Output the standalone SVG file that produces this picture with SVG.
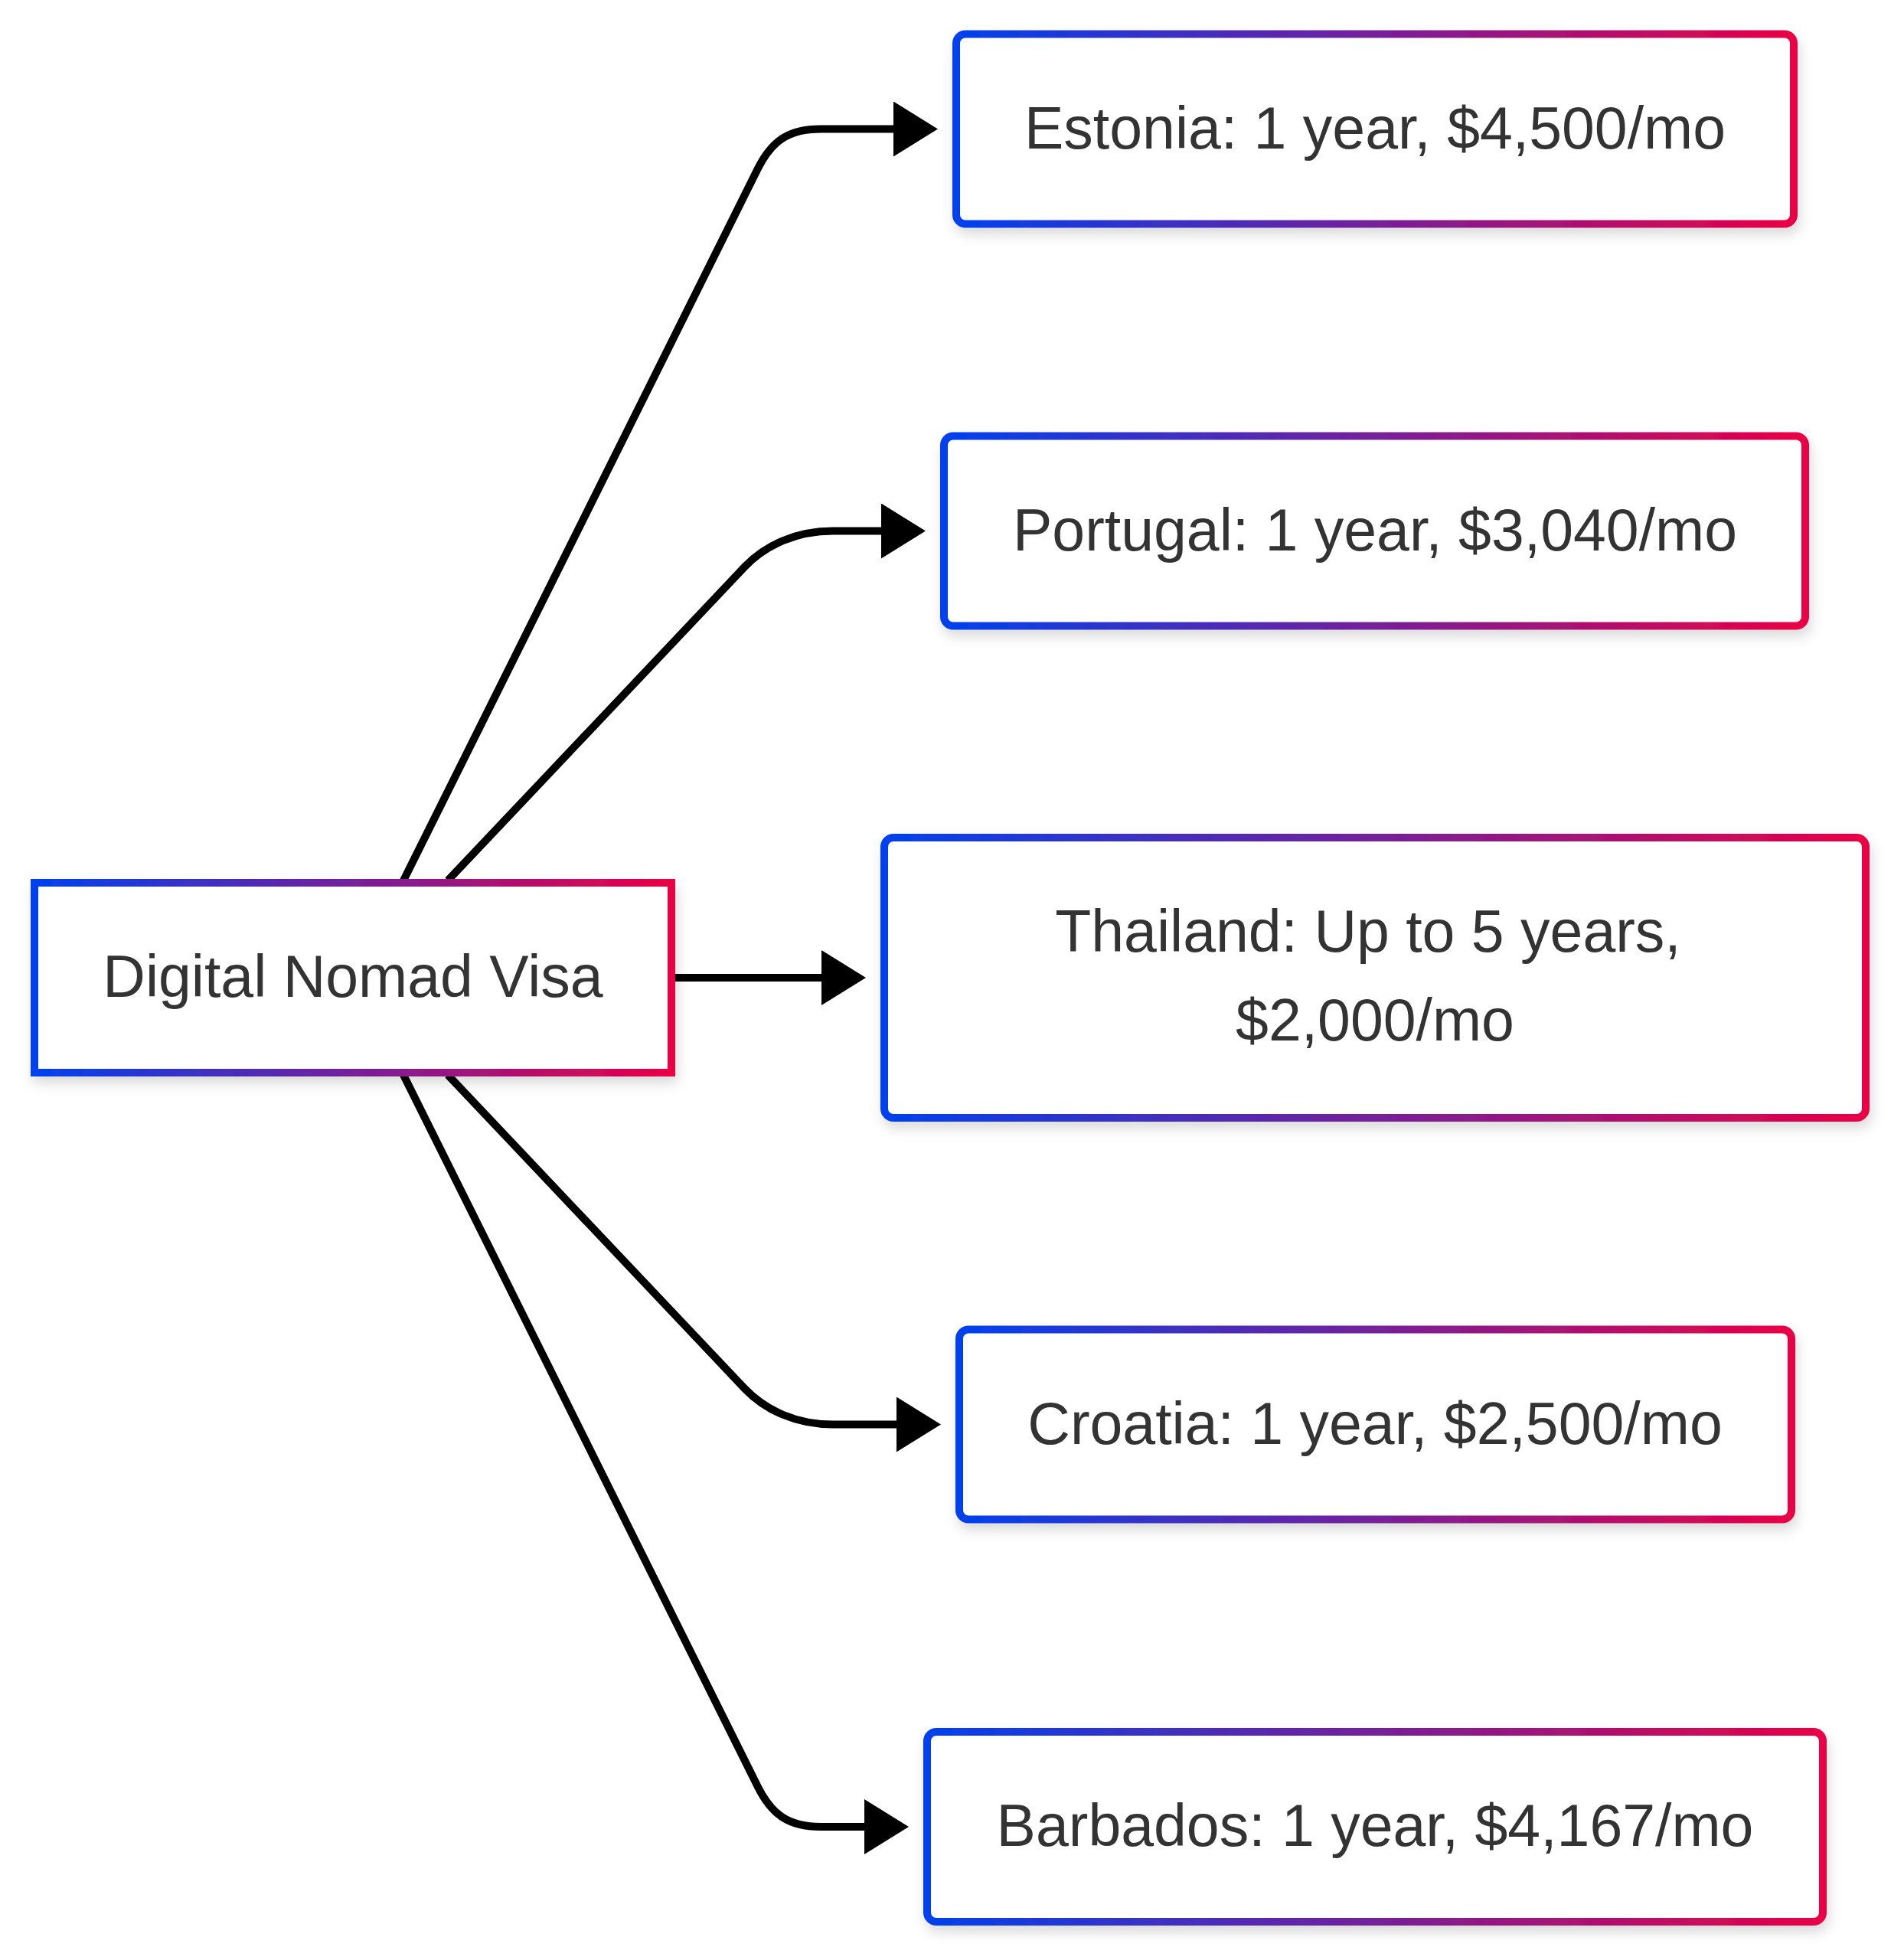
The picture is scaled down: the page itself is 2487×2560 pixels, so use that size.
<svg xmlns="http://www.w3.org/2000/svg" width="2487" height="2560" viewBox="0 0 2487 2560">
  <defs>
    <linearGradient id="grad" x1="0" y1="0" x2="1" y2="0">
      <stop offset="0" stop-color="#0041ee"/>
      <stop offset="1" stop-color="#ea0045"/>
    </linearGradient>
    <filter id="shadow" x="-10%" y="-20%" width="120%" height="150%">
      <feDropShadow dx="3" dy="9" stdDeviation="8" flood-color="#000" flood-opacity="0.14"/>
    </filter>
    <marker id="arrow" markerUnits="userSpaceOnUse" viewBox="0 0 58 72" refX="8" refY="36" markerWidth="58" markerHeight="72" orient="auto">
      <path d="M0,0 L58,36 L0,72 Z" fill="#000"/>
    </marker>
    <style>
      .box { fill: #ffffff; stroke: url(#grad); stroke-width: 10; filter: url(#shadow); }
      .lbl { font-family: "Liberation Sans", Arial, sans-serif; font-size: 77px; fill: #333333; text-anchor: middle; }
      .edge { fill: none; stroke: #000000; stroke-width: 10; marker-end: url(#arrow); }
    </style>
  </defs>
  <rect width="2487" height="2560" fill="#ffffff"/>

  <g id="connectors">
    <path class="edge" d="M527,1150 L990,220 C1008,184 1030,168.5 1072,168.5 L1175,168.5"/>
    <path class="edge" d="M585,1150 L973,740 C1000,712 1040,693.5 1088,693.5 L1159,693.5"/>
    <path class="edge" d="M880,1277 L1081,1277"/>
    <path class="edge" d="M585,1404 L973,1814 C1000,1842 1040,1860.5 1088,1860.5 L1179,1860.5"/>
    <path class="edge" d="M527,1404 L990,2334 C1008,2370 1030,2386 1072,2386 L1137,2386"/>
  </g>

  <g id="node-dnv">
    <rect class="box" x="45" y="1153" width="832" height="248"/>
    <text class="lbl" x="461" y="1302">Digital Nomad Visa</text>
  </g>

  <g id="node-estonia">
    <rect class="box" x="1249" y="44.5" width="1094" height="248" rx="12"/>
    <text class="lbl" x="1796" y="193.5">Estonia: 1 year, $4,500/mo</text>
  </g>

  <g id="node-portugal">
    <rect class="box" x="1233" y="569.5" width="1125" height="248" rx="12"/>
    <text class="lbl" x="1796" y="719">Portugal: 1 year, $3,040/mo</text>
  </g>

  <g id="node-thailand">
    <rect class="box" x="1155" y="1094" width="1282" height="366" rx="12"/>
    <text class="lbl" x="1787" y="1243">Thailand: Up to 5 years,</text>
    <text class="lbl" x="1796" y="1359">$2,000/mo</text>
  </g>

  <g id="node-croatia">
    <rect class="box" x="1253" y="1736.5" width="1087" height="248" rx="12"/>
    <text class="lbl" x="1796" y="1886">Croatia: 1 year, $2,500/mo</text>
  </g>

  <g id="node-barbados">
    <rect class="box" x="1211" y="2262" width="1170" height="248" rx="12"/>
    <text class="lbl" x="1796" y="2411">Barbados: 1 year, $4,167/mo</text>
  </g>
</svg>
